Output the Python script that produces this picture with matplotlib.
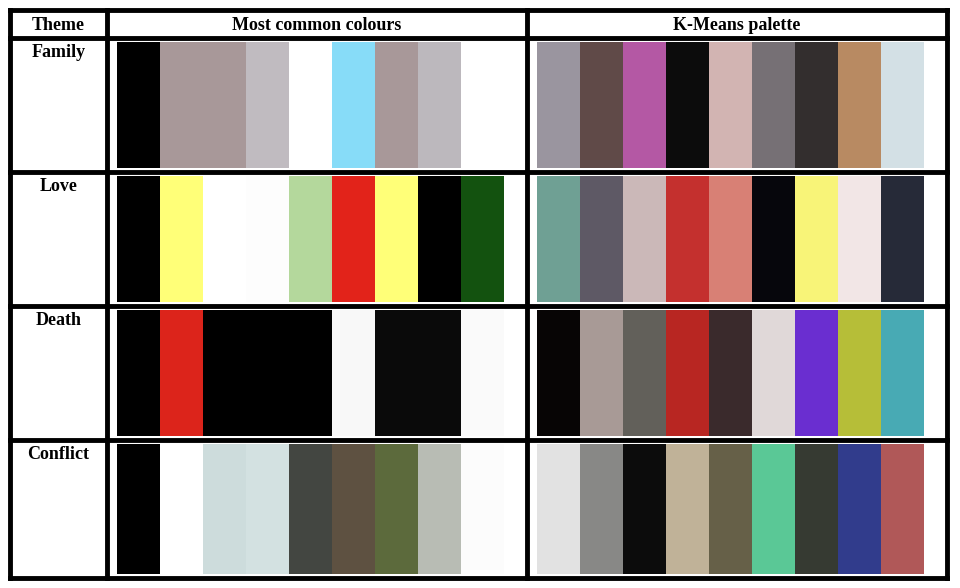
import matplotlib.pyplot as plt

themes = ["Family", "Love", "Death", "Conflict"]
headers = ["Theme", "Most common colours", "K-Means palette"]

common = [
    ["#000000", "#a89899", "#a89899", "#c0bbc0", "#ffffff", "#87dcf8", "#a89899", "#bcb8bd", "#ffffff"],
    ["#000000", "#ffff78", "#ffffff", "#fdfdfd", "#b4d89c", "#e2231a", "#ffff78", "#000000", "#13520f"],
    ["#000000", "#dc241b", "#000000", "#000000", "#000000", "#f8f8f8", "#0a0a0a", "#0a0a0a", "#fafafa"],
    ["#000000", "#ffffff", "#cddcdc", "#d3e1e1", "#434641", "#5e5141", "#5c6a3c", "#b8bcb4", "#fcfcfc"],
]
kmeans = [
    ["#9a959f", "#604a48", "#b458a4", "#0c0c0c", "#d2b4b2", "#767075", "#332e2e", "#b88a62", "#d3e0e5"],
    ["#6fa094", "#5e5965", "#cbb8b8", "#c4302e", "#d88075", "#06060c", "#f8f478", "#f2e6e6", "#262a38"],
    ["#070505", "#a89a96", "#62605a", "#b82622", "#3a2a2c", "#e0d8d8", "#6a2ed0", "#b6be38", "#48aab4"],
    ["#e2e2e2", "#888886", "#0c0c0c", "#c0b298", "#666048", "#5ac896", "#363a32", "#313c8c", "#b05858"],
]

fig = plt.figure(figsize=(9.6, 5.88), dpi=100)
ax = fig.add_axes([0, 0, 1, 1])
ax.set_xlim(0, 960)
ax.set_ylim(588, 0)
ax.axis("off")

font = dict(family="Liberation Serif", weight="bold", fontsize=13)

col_x = [10, 107, 527, 947]
row_y = [10, 38, 172, 306, 440, 578]

# swatches
sw = 43
for r in range(4):
    top = row_y[r + 1] + 4
    h = row_y[r + 2] - row_y[r + 1] - 8
    for start, cols in ((117, common[r]), (537, kmeans[r])):
        xs = [start + i * sw for i in range(len(cols))]
        ax.bar(xs, h, width=sw, bottom=top, color=cols, align="edge", linewidth=0)

# grid lines
for x in col_x:
    ax.plot([x, x], [row_y[0], row_y[-1]], color="black", lw=3.5, solid_capstyle="projecting")
for y in row_y:
    ax.plot([col_x[0], col_x[-1]], [y, y], color="black", lw=3.5, solid_capstyle="projecting")

for i, t in enumerate(headers):
    ax.text((col_x[i] + col_x[i + 1]) / 2, 25, t, ha="center", va="center", **font)
for r, t in enumerate(themes):
    ax.text((col_x[0] + col_x[1]) / 2, row_y[r + 1] + 6, t, ha="center", va="top", **font)

fig.savefig("out.png", dpi=100)
